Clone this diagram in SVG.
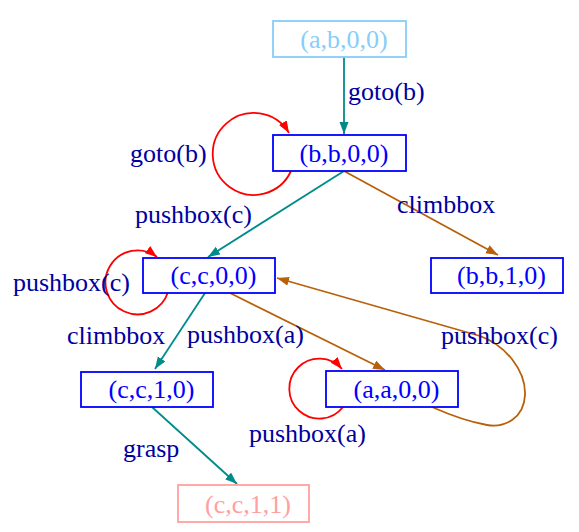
<svg xmlns="http://www.w3.org/2000/svg" width="579" height="532" viewBox="0 0 579 532">
<style>
  .box { fill: #ffffff; stroke-width: 1.8; }
  .nt { font-family: "Liberation Serif", "Times New Roman", serif; font-size: 26px; text-anchor: middle; }
  .lbl { font-family: "Liberation Serif", "Times New Roman", serif; font-size: 26px; fill: #0000A0; }
  .e { fill: none; stroke-width: 1.8; }
  .teal { stroke: #008B8B; }
  .brown { stroke: #B8600A; }
  .red { stroke: #FF0000; }
</style>
<defs>
  <marker id="aTeal" markerUnits="userSpaceOnUse" markerWidth="14" markerHeight="10" refX="12" refY="4.5" orient="auto"><path d="M0,0 L12,4.5 L0,9 Z" fill="#008B8B"/></marker>
  <marker id="aBrown" markerUnits="userSpaceOnUse" markerWidth="14" markerHeight="10" refX="12" refY="4.5" orient="auto"><path d="M0,0 L12,4.5 L0,9 Z" fill="#B8600A"/></marker>
  <marker id="aRed" markerUnits="userSpaceOnUse" markerWidth="14" markerHeight="10" refX="12" refY="4.5" orient="auto"><path d="M0,0 L12,4.5 L0,9 Z" fill="#FF0000"/></marker>
</defs>
<rect width="579" height="532" fill="#ffffff"/>
<g id="connectors">
  <path class="e teal" d="M344,57 L344,134" marker-end="url(#aTeal)"/>
  <path class="e red" d="M291,171 A41,41 0 1 1 289,133" marker-end="url(#aRed)"/>
  <path class="e teal" d="M344,171 L208,257" marker-end="url(#aTeal)"/>
  <path class="e brown" d="M344,171 L498,255" marker-end="url(#aBrown)"/>
  <path class="e red" d="M168,292 A32,32 0 1 1 157,257" marker-end="url(#aRed)"/>
  <path class="e teal" d="M205,293 L155,369" marker-end="url(#aTeal)"/>
  <path class="e brown" d="M230,293 L385,370" marker-end="url(#aBrown)"/>
  <path class="e red" d="M343,407 A30,30 0 1 1 342,369" marker-end="url(#aRed)"/>
  <path class="e brown" d="M432,407 C450,415 470,422 487,425 C505,428 524,418 525,395 C526,370 505,345 480,336 L277,278" marker-end="url(#aBrown)"/>
  <path class="e teal" d="M152,407 L237,484" marker-end="url(#aTeal)"/>
  <text class="lbl" x="348" y="100">goto(b)</text>
  <text class="lbl" x="130" y="162">goto(b)</text>
  <text class="lbl" x="135" y="223">pushbox(c)</text>
  <text class="lbl" x="397" y="213">climbbox</text>
  <text class="lbl" x="13" y="291">pushbox(c)</text>
  <text class="lbl" x="67" y="344">climbbox</text>
  <text class="lbl" x="187" y="343">pushbox(a)</text>
  <text class="lbl" x="441" y="344">pushbox(c)</text>
  <text class="lbl" x="249" y="442">pushbox(a)</text>
  <text class="lbl" x="123" y="457">grasp</text>
</g>
<g id="n_abOO">
  <rect class="box" x="273" y="21" width="133" height="36" stroke="#87CEFA"/>
  <text class="nt" x="344" y="48" fill="#87CEFA">(a,b,0,0)</text>
</g>
<g id="n_bbOO">
  <rect class="box" x="273" y="135" width="133" height="36" stroke="#0000FF"/>
  <text class="nt" x="344" y="162" fill="#0000FF">(b,b,0,0)</text>
</g>
<g id="n_ccOO">
  <rect class="box" x="143" y="258" width="132" height="35" stroke="#0000FF"/>
  <text class="nt" x="213.5" y="284" fill="#0000FF">(c,c,0,0)</text>
</g>
<g id="n_bb1O">
  <rect class="box" x="431" y="258" width="132" height="35" stroke="#0000FF"/>
  <text class="nt" x="501.5" y="284" fill="#0000FF">(b,b,1,0)</text>
</g>
<g id="n_cc1O">
  <rect class="box" x="81" y="372" width="132" height="35" stroke="#0000FF"/>
  <text class="nt" x="151.5" y="398" fill="#0000FF">(c,c,1,0)</text>
</g>
<g id="n_aaOO">
  <rect class="box" x="326" y="371" width="132" height="36" stroke="#0000FF"/>
  <text class="nt" x="396.5" y="398" fill="#0000FF">(a,a,0,0)</text>
</g>
<g id="n_cc11">
  <rect class="box" x="178" y="485" width="131" height="37" stroke="#FFA0A0"/>
  <text class="nt" x="248" y="513" fill="#FFA0A0">(c,c,1,1)</text>
</g>
</svg>
